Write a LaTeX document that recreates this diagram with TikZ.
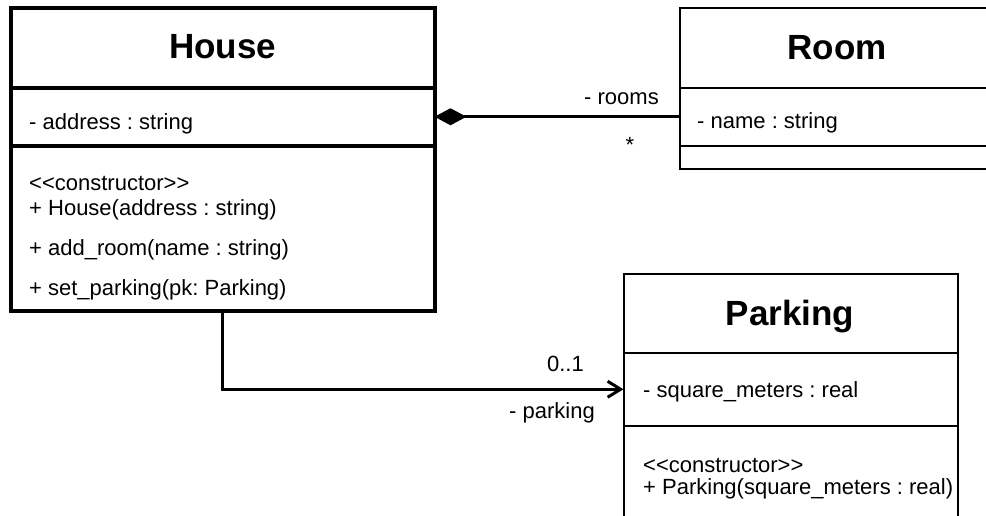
\documentclass[tikz,border=0pt]{standalone}
\usepackage{fontspec}
\setmainfont{Liberation Sans}
\usetikzlibrary{arrows.meta}
\frenchspacing
\tikzset{
  hbox/.style={draw=black, line width=4pt, rectangle, inner sep=0pt, outer sep=0pt, minimum width=424pt},
  rbox/.style={draw=black, line width=2pt, rectangle, inner sep=0pt, outer sep=0pt, minimum width=310pt},
  pbox/.style={draw=black, line width=2pt, rectangle, inner sep=0pt, outer sep=0pt, minimum width=334.5pt},
  titletext/.style={anchor=base, inner sep=0pt, font=\fontsize{35}{40}\selectfont\bfseries},
  bodytext/.style={anchor=base west, inner sep=0pt, font=\fontsize{22}{24}\selectfont},
  labeltext/.style={anchor=base east, inner sep=0pt, font=\fontsize{22}{24}\selectfont},
  conn/.style={draw=black, line width=3pt}
}
\newcommand{\stereo}[1]{{<}{<}#1{>}{>}}
\begin{document}
\begin{tikzpicture}[x=1pt, y=-1pt]
\useasboundingbox (0,0) rectangle (986,515);
% House
\node[hbox, minimum height=79.5pt] (hTitle) at (222.5,47.75) {};
\node[hbox, minimum height=58.5pt] (hAttr) at (222.5,116.75) {};
\node[hbox, minimum height=164.5pt] (hOps) at (222.5,228.25) {};
\node[titletext] (hName) at (222.5,58) {House};
\node[bodytext] (hA1) at (29,129) {- address : string};
\node[bodytext] (hO0) at (29,190) {\stereo{constructor}};
\node[bodytext] (hO1) at (29,215) {+ House(address : string)};
\node[bodytext] (hO2) at (29,255) {+ add\_room(name : string)};
\node[bodytext] (hO3) at (29,295) {+ set\_parking(pk: Parking)};
% Room
\node[rbox, minimum height=79.5pt] (rTitle) at (835,47.75) {};
\node[rbox, minimum height=58.5pt] (rAttr) at (835,116.75) {};
\node[rbox, minimum height=23pt] (rOps) at (835,157.5) {};
\node[titletext] (rName) at (837,59) {Room};
\node[bodytext] (rA1) at (697,128) {- name : string};
% Parking
\node[pbox, minimum height=79pt] (pTitle) at (790.75,313.5) {};
\node[pbox, minimum height=72.5pt] (pAttr) at (790.75,389.25) {};
\node[pbox, minimum height=104.5pt] (pOps) at (790.75,477.75) {};
\node[titletext] (pName) at (790,325) {Parking};
\node[bodytext] (pA1) at (643,397) {- square\_meters : real};
\node[bodytext] (pO0) at (643,472) {\stereo{constructor}};
\node[bodytext] (pO1) at (643,494) {+ Parking(square\_meters : real)};
% Composition House -> Room
\draw[conn, {Diamond[length=32pt,width=17pt,line width=0pt]}-] (hAttr.east) -- (rAttr.west);
\node[labeltext] (lRooms) at (659,104) {- rooms};
\node[anchor=base, inner sep=0pt, font=\fontsize{22}{24}\selectfont] (lStar) at (630,152) {*};
% Association House -> Parking
\draw[conn, -{Straight Barb[length=13pt,width=16pt]}] (hOps.south) |- (pAttr.west);
\node[labeltext] (lMult) at (584,371) {0..1};
\node[labeltext] (lPark) at (595,418) {- parking};
\end{tikzpicture}
\end{document}
